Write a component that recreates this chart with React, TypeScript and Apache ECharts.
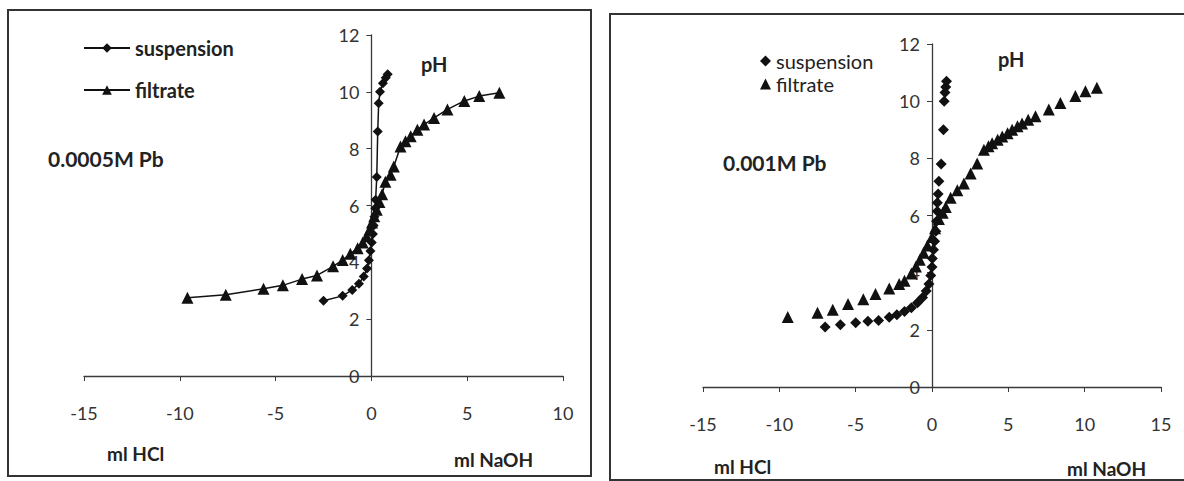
import React, { useEffect, useRef } from "react";
import * as echarts from "echarts";

// ---- Data (ml titrant, pH) ----
const leftSuspension: number[][] = [
  [-2.5, 2.65], [-1.5, 2.82], [-1.0, 3.03], [-0.65, 3.25], [-0.4, 3.5], [-0.23, 3.78],
  [-0.13, 4.07], [-0.05, 4.4], [0.02, 4.7], [0.08, 5.0], [0.12, 5.3], [0.16, 5.6],
  [0.2, 5.9], [0.22, 6.2], [0.28, 7.0], [0.33, 8.6], [0.38, 9.6], [0.45, 10.0],
  [0.6, 10.3], [0.75, 10.5], [0.85, 10.62],
];
const leftFiltrate: number[][] = [
  [-9.6, 2.75], [-7.6, 2.86], [-5.63, 3.07], [-4.62, 3.19], [-3.62, 3.41], [-2.84, 3.54],
  [-2.0, 3.86], [-1.5, 4.08], [-1.1, 4.3], [-0.72, 4.5], [-0.45, 4.7], [-0.25, 4.92],
  [-0.1, 5.15], [0.03, 5.4], [0.15, 5.62], [0.28, 5.85], [0.42, 6.12], [0.56, 6.4],
  [0.73, 6.84], [1.0, 7.08], [1.17, 7.37], [1.52, 8.08], [1.78, 8.26], [2.05, 8.44],
  [2.4, 8.67], [2.75, 8.85], [3.27, 9.08], [3.97, 9.38], [4.85, 9.68], [5.63, 9.85],
  [6.68, 9.97],
];
const rightSuspension: number[][] = [
  [-7.0, 2.1], [-6.0, 2.18], [-5.0, 2.25], [-4.2, 2.3], [-3.5, 2.33], [-2.8, 2.44],
  [-2.3, 2.53], [-1.8, 2.64], [-1.35, 2.77], [-0.95, 2.95], [-0.62, 3.13], [-0.38, 3.36],
  [-0.2, 3.6], [-0.08, 3.9], [0.0, 4.2], [0.02, 4.5], [0.1, 4.8], [0.17, 5.1],
  [0.25, 5.45], [0.3, 5.8], [0.35, 6.15], [0.35, 6.45], [0.4, 6.75], [0.45, 7.2],
  [0.6, 7.8], [0.75, 9.0], [0.8, 10.0], [0.85, 10.3], [0.9, 10.5], [0.95, 10.7],
];
const rightFiltrate: number[][] = [
  [-9.45, 2.45], [-7.5, 2.6], [-6.5, 2.7], [-5.5, 2.9], [-4.5, 3.07], [-3.7, 3.25],
  [-2.8, 3.45], [-2.15, 3.6], [-1.8, 3.72], [-1.35, 3.97], [-1.05, 4.22], [-0.8, 4.45],
  [-0.55, 4.7], [-0.3, 4.95], [0, 5.25], [0.2, 5.55], [0.45, 5.88], [0.7, 6.1],
  [0.9, 6.3], [1.22, 6.62], [1.66, 6.88], [2.09, 7.12], [2.53, 7.47], [2.96, 7.82],
  [3.4, 8.3], [3.7, 8.42], [3.94, 8.53], [4.3, 8.65], [4.6, 8.76], [4.95, 8.88],
  [5.25, 9.0], [5.6, 9.12], [5.9, 9.22], [6.3, 9.35], [6.78, 9.47], [7.65, 9.71],
  [8.41, 9.94], [9.39, 10.18], [10.05, 10.35], [10.8, 10.47],
];
const leftXRange = [-15, 10];
const rightXRange = [-15, 15];
const yRange = [0, 12];
const seriesNames = ["suspension", "filtrate"];
const leftTitle = "0.0005M Pb";
const rightTitle = "0.001M Pb";

const FONT = "Lato, 'Open Sans', sans-serif";
const INK = "#111";
const AXIS = "#3a3a3a";

// grid geometry
const LG = { left: 84, top: 35, width: 479, height: 341 };
const RG = { left: 703, top: 44, width: 458, height: 343 };

function makeX(gridIndex: number, range: number[]) {
  return {
    type: "value",
    gridIndex,
    min: range[0],
    max: range[1],
    interval: 5,
    axisLine: { show: true, onZero: true, lineStyle: { color: AXIS, width: 1.3 } },
    axisTick: { show: true, length: 5, lineStyle: { color: AXIS } },
    axisLabel: { margin: 28, color: "#333", fontSize: 18, fontFamily: FONT },
    splitLine: { show: false },
  };
}
function makeY(gridIndex: number, range: number[], width: number) {
  // place the y axis where x = 0
  const zeroOffset = -((0 - range[0]) / (range[1] - range[0])) * width;
  return {
    type: "value",
    gridIndex,
    min: yRange[0],
    max: yRange[1],
    interval: 2,
    offset: zeroOffset,
    axisLine: { show: true, onZero: false, lineStyle: { color: AXIS, width: 1.3 } },
    axisTick: { show: true, length: 5, lineStyle: { color: AXIS } },
    axisLabel: { margin: 12, color: "#333", fontSize: 18, fontFamily: FONT },
    splitLine: { show: false },
  };
}

const boldText = (x: number, y: number, text: string, size = 20) => ({
  type: "text",
  x,
  y,
  style: { text, fill: "#222", font: `bold ${size}px ${FONT}`, textVerticalAlign: "middle" },
});

export default function App() {
  const ref = useRef<HTMLDivElement>(null);
  useEffect(() => {
    if (!ref.current) return;
    const chart = echarts.init(ref.current, undefined, { renderer: "svg" });
    chart.setOption({
      animation: false,
      backgroundColor: "#fff",
      textStyle: { fontFamily: FONT },
      grid: [LG, RG],
      xAxis: [makeX(0, leftXRange), makeX(1, rightXRange)],
      yAxis: [makeY(0, leftXRange, LG.width), makeY(1, rightXRange, RG.width)],
      legend: [
        {
          data: seriesNames,
          orient: "vertical",
          left: 78,
          top: 33,
          itemWidth: 46,
          itemHeight: 12,
          itemGap: 22,
          textStyle: { fontSize: 20, fontWeight: "bold", color: "#222", fontFamily: FONT },
          selectedMode: false,
        },
        {
          data: [
            { name: seriesNames[0], icon: "diamond" },
            { name: seriesNames[1], icon: "triangle" },
          ],
          orient: "vertical",
          left: 755,
          top: 46,
          itemWidth: 11,
          itemHeight: 11,
          itemGap: 3,
          textStyle: { fontSize: 20, color: "#222", fontFamily: FONT },
          selectedMode: false,
        },
      ],
      series: [
        {
          name: seriesNames[0],
          type: "line",
          xAxisIndex: 0,
          yAxisIndex: 0,
          data: leftSuspension,
          symbol: "diamond",
          symbolSize: 10,
          itemStyle: { color: INK },
          lineStyle: { color: INK, width: 1.5 },
        },
        {
          name: seriesNames[1],
          type: "line",
          xAxisIndex: 0,
          yAxisIndex: 0,
          data: leftFiltrate,
          symbol: "triangle",
          symbolSize: 12,
          itemStyle: { color: INK },
          lineStyle: { color: INK, width: 1.5 },
        },
        {
          name: seriesNames[0],
          type: "scatter",
          xAxisIndex: 1,
          yAxisIndex: 1,
          data: rightSuspension,
          symbol: "diamond",
          symbolSize: 11,
          itemStyle: { color: INK, opacity: 1 },
        },
        {
          name: seriesNames[1],
          type: "scatter",
          xAxisIndex: 1,
          yAxisIndex: 1,
          data: rightFiltrate,
          symbol: "triangle",
          symbolSize: 12,
          itemStyle: { color: INK, opacity: 1 },
        },
      ],
      graphic: [
        {
          type: "rect",
          shape: { x: 8, y: 10, width: 583, height: 466 },
          style: { fill: "none", stroke: "#333", lineWidth: 2 },
          silent: true,
        },
        {
          type: "rect",
          shape: { x: 610, y: 14, width: 590, height: 466 },
          style: { fill: "none", stroke: "#333", lineWidth: 2 },
          silent: true,
        },
        boldText(421, 64, "pH"),
        boldText(48, 158, leftTitle, 21),
        boldText(107, 453, "ml HCl", 19),
        boldText(454, 459, "ml NaOH", 19),
        boldText(998, 59, "pH"),
        boldText(723, 162, rightTitle, 21),
        boldText(714, 466, "ml HCl", 19),
        boldText(1067, 468, "ml NaOH", 19),
      ],
    });
    return () => chart.dispose();
  }, []);
  return (
    <div
      ref={ref}
      style={{ position: "fixed", left: 0, top: 0, width: 1184, height: 481, background: "#fff" }}
    />
  );
}
